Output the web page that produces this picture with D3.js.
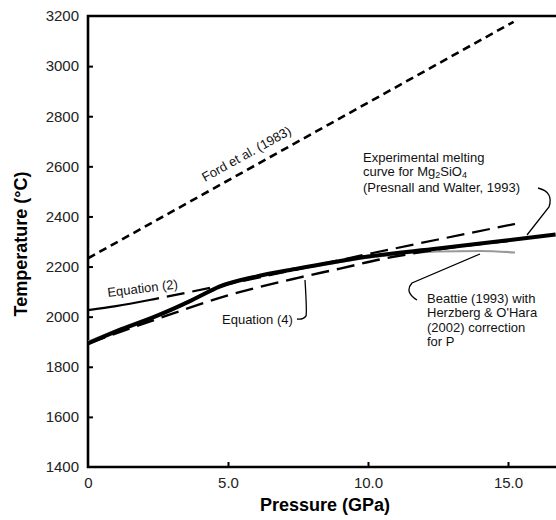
<!DOCTYPE html>
<html>
<head>
<meta charset="utf-8">
<script src="https://cdn.jsdelivr.net/npm/d3@7"></script>
<style>
  body { margin: 0; background: #fff; }
  svg { display: block; font-family: "Liberation Sans", Arial, sans-serif; }
</style>
</head>
<body>
<svg id="chart" width="556" height="520"></svg>
<script>
// pressure (GPa) / temperature (°C)
const fordP = [0, 15.2];
const fordT = [2233, 3177];

const meltP = [0, 1.2, 2.5, 3.7, 4.7, 6, 7.5, 10, 12.5, 15, 16.7];
const meltT = [1893, 1950, 2005, 2065, 2120, 2160, 2192, 2240, 2272, 2305, 2328];

const beattieP = [0, 1.2, 2.5, 3.7, 4.7, 6, 7.5, 10, 12.5, 14, 15.25];
const beattieT = [1900, 1955, 2010, 2068, 2124, 2162, 2190, 2236, 2260, 2262, 2256];

const eq2P = [0, 1, 2.5, 5, 7.5, 10, 12.5, 15.25];
const eq2T = [2026, 2042, 2073, 2130, 2190, 2250, 2308, 2370];

const eq4P = [0, 2.5, 5, 7.5, 9, 10.5, 12.5, 15];
const eq4T = [1893, 1992, 2085, 2155, 2192, 2230, 2268, 2302];

const xTicks = [0, 5, 10, 15];
const xTickLabels = ["0", "5.0", "10.0", "15.0"];
const yTicks = [1400, 1600, 1800, 2000, 2200, 2400, 2600, 2800, 3000, 3200];

const svg = d3.select("#chart");
const mLeft = 88, mTop = 16, mBottom = 467, mRight = 556;

const x = d3.scaleLinear().domain([0, 20]).range([mLeft, mLeft + 28 * 20]);
const y = d3.scaleLinear().domain([1400, 3200]).range([mBottom, mTop]);

svg.append("defs").append("clipPath").attr("id", "plot")
  .append("rect").attr("x", mLeft).attr("y", mTop).attr("width", mRight - mLeft).attr("height", mBottom - mTop);

// axes
const xAxis = svg.append("g")
  .attr("transform", "translate(0," + mBottom + ")")
  .call(d3.axisBottom(x).tickValues(xTicks).tickSize(-5).tickPadding(10)
    .tickFormat((d, i) => xTickLabels[i]));
const yAxis = svg.append("g")
  .attr("transform", "translate(" + mLeft + ",0)")
  .call(d3.axisLeft(y).tickValues(yTicks).tickSize(-5).tickPadding(9).tickFormat(d3.format("d")));

[xAxis, yAxis].forEach(a => {
  a.select(".domain").remove();
  a.selectAll(".tick line").attr("stroke", "#000").attr("stroke-width", 2);
  a.selectAll(".tick text").attr("fill", "#222").style("font-size", "15px");
});
xAxis.selectAll(".tick").filter(d => d === 0).select("line").remove();
yAxis.selectAll(".tick").filter(d => d === 1400 || d === 3200).select("line").remove();

svg.append("path")
  .attr("d", `M${mRight},${mTop}H${mLeft}V${mBottom}H${mRight}`)
  .attr("fill", "none").attr("stroke", "#000").attr("stroke-width", 2.6);

// axis titles
svg.append("text")
  .attr("x", 325).attr("y", 511)
  .attr("text-anchor", "middle")
  .style("font-size", "18px").style("font-weight", "bold")
  .text("Pressure (GPa)");
svg.append("text")
  .attr("transform", "translate(27,244)rotate(-90)")
  .attr("text-anchor", "middle")
  .style("font-size", "18px").style("font-weight", "bold")
  .text("Temperature (°C)");

// curves
const line = d3.line().x(d => x(d[0])).y(d => y(d[1])).curve(d3.curveMonotoneX);
const g = svg.append("g").attr("clip-path", "url(#plot)");

g.append("path")
  .datum(fordP.map((p, i) => [p, fordT[i]]))
  .attr("d", line)
  .attr("fill", "none").attr("stroke", "#000").attr("stroke-width", 2.6)
  .attr("stroke-dasharray", "8,5");

g.append("path")
  .datum(beattieP.map((p, i) => [p, beattieT[i]]))
  .attr("d", line)
  .attr("fill", "none").attr("stroke", "#999").attr("stroke-width", 2.2);

g.append("path")
  .datum(eq4P.map((p, i) => [p, eq4T[i]]))
  .attr("d", line)
  .attr("fill", "none").attr("stroke", "#000").attr("stroke-width", 2.4)
  .attr("stroke-dasharray", "18,8");

const eq2 = g.append("path")
  .datum(eq2P.map((p, i) => [p, eq2T[i]]))
  .attr("d", line)
  .attr("fill", "none").attr("stroke", "#000").attr("stroke-width", 2.2);
// first part drawn solid, then long dashes
const dash = [72, 8];
for (let i = 0; i < 30; i++) dash.push(18, 8);
eq2.attr("stroke-dasharray", dash.join(","));

g.append("path")
  .datum(meltP.map((p, i) => [p, meltT[i]]))
  .attr("d", line)
  .attr("fill", "none").attr("stroke", "#000").attr("stroke-width", 4);

// labels
const lab = svg.append("g").style("font-size", "13px").attr("fill", "#111");

lab.append("text")
  .attr("transform", "translate(205,182)rotate(-29)")
  .text("Ford et al. (1983)");

lab.append("text")
  .attr("transform", "translate(108,297)rotate(-7)")
  .text("Equation (2)");

lab.append("text").attr("x", 222).attr("y", 324).text("Equation (4)");

lab.append("text").attr("x", 363).attr("y", 162).text("Experimental melting");
const l2 = lab.append("text").attr("x", 363).attr("y", 176);
l2.append("tspan").text("curve for Mg");
l2.append("tspan").attr("dy", 2).style("font-size", "9px").text("2");
l2.append("tspan").attr("dy", -2).text("SiO");
l2.append("tspan").attr("dy", 2).style("font-size", "9px").text("4");
lab.append("text").attr("x", 363).attr("y", 192).text("(Presnall and Walter, 1993)");

["Beattie (1993) with", "Herzberg & O'Hara", "(2002) correction", "for P"].forEach((t, i) => {
  lab.append("text").attr("x", 427).attr("y", 303 + i * 14.3).text(t);
});

// leader lines
const leaders = [
  "M297,319 Q303,320 306,316 Q307,312 305,280",
  "M538,188 Q554,192 549,207 L527,235",
  "M417,300 Q404,292 412,283 L480,254"
];
svg.append("g").selectAll("path").data(leaders).enter().append("path")
  .attr("d", d => d)
  .attr("fill", "none").attr("stroke", "#000").attr("stroke-width", 1.3);
</script>
</body>
</html>
